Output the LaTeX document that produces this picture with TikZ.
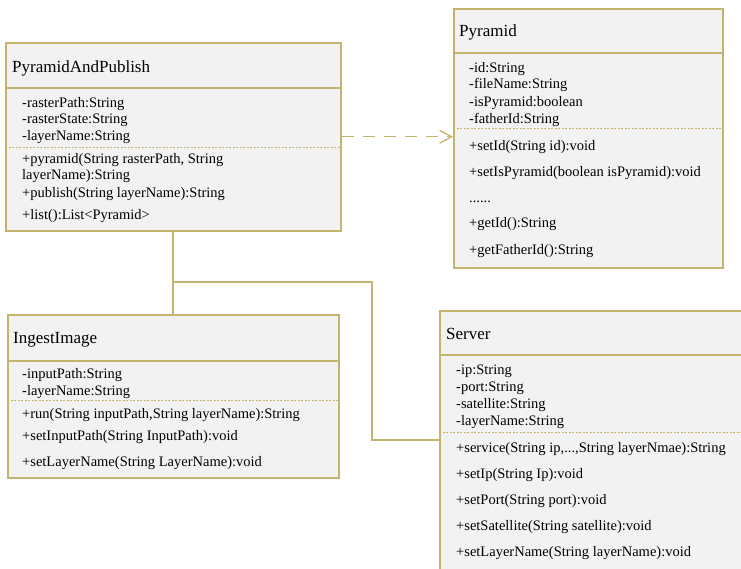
\documentclass[tikz,border=0pt]{standalone}
\usepackage{fontspec}
\setmainfont{Liberation Serif}
\usepackage{xcolor}
\definecolor{umlline}{HTML}{C3B56E}
\definecolor{umlfill}{HTML}{F2F2F2}
\usepackage{tikz}
\usetikzlibrary{arrows.meta, shadows}

\begin{document}
\begin{tikzpicture}[x=1pt, y=-1pt,
  classbox/.style={draw=umlline, line width=1.5pt, fill=umlfill, inner sep=0pt, anchor=north west,
    general shadow={shadow xshift=1.5pt, shadow yshift=-1.5pt, fill=black!15}},
  classname/.style={anchor=base west, inner sep=0pt, font=\fontsize{17}{20}\selectfont},
  member/.style={anchor=base west, inner sep=0pt, font=\fontsize{14.5}{17}\selectfont},
  headrule/.style={draw=umlline, line width=1.5pt},
  dotrule/.style={draw=umlline, line width=0.9pt, dash pattern=on 2pt off 1.5pt},
  conn/.style={draw=umlline, line width=2pt},
  dep/.style={draw=umlline, line width=1.3pt, dash pattern=on 12pt off 9pt,
    -{Straight Barb[length=12pt, width=13pt]}}
]
\useasboundingbox (0,0) rectangle (741,568);
\clip (0,0) rectangle (741,568);

\node[classbox, minimum width=335pt, minimum height=188pt] (pap) at (5,42) {};
\draw[headrule] (pap.west |- 0,88) -- (pap.east |- 0,88);
\draw[dotrule] (pap.west |- 0,147) -- (pap.east |- 0,147);
\node[classname] (pap-name) at (12,72) {PyramidAndPublish};
\foreach \i/\yy/\txt in {1/107/{-rasterPath:String}, 2/123/{-rasterState:String}, 3/140/{-layerName:String},
    4/163/{+pyramid(String rasterPath, String}, 5/179/{layerName):String},
    6/197/{+publish(String layerName):String}, 7/219/{+list():List<Pyramid>}}
  \node[member] (pap-\i) at (22,\yy) {\txt};

\node[classbox, minimum width=269pt, minimum height=259pt] (pyr) at (453,8) {};
\draw[headrule] (pyr.west |- 0,53) -- (pyr.east |- 0,53);
\draw[dotrule] (pyr.west |- 0,128) -- (pyr.east |- 0,128);
\node[classname] (pyr-name) at (459,36) {Pyramid};
\foreach \i/\yy/\txt in {1/72/{-id:String}, 2/88/{-fileName:String}, 3/106/{-isPyramid:boolean},
    4/123/{-fatherId:String}, 5/150/{+setId(String id):void},
    6/176/{+setIsPyramid(boolean isPyramid):void}, 7/202/{......},
    8/227/{+getId():String}, 9/254/{+getFatherId():String}}
  \node[member] (pyr-\i) at (469,\yy) {\txt};

\node[classbox, minimum width=331pt, minimum height=163pt] (ingest) at (7,314) {};
\draw[headrule] (ingest.west |- 0,361) -- (ingest.east |- 0,361);
\draw[dotrule] (ingest.west |- 0,400) -- (ingest.east |- 0,400);
\node[classname] (ingest-name) at (13,343) {IngestImage};
\foreach \i/\yy/\txt in {1/378/{-inputPath:String}, 2/395/{-layerName:String},
    3/418/{+run(String inputPath,String layerName):String},
    4/440/{+setInputPath(String InputPath):void}, 5/466/{+setLayerName(String LayerName):void}}
  \node[member] (ingest-\i) at (22,\yy) {\txt};

\node[classbox, minimum width=330pt, minimum height=290pt] (server) at (439,310) {};
\draw[headrule] (server.west |- 0,355) -- (server.east |- 0,355);
\draw[dotrule] (server.west |- 0,432) -- (server.east |- 0,432);
\node[classname] (server-name) at (446,339) {Server};
\foreach \i/\yy/\txt in {1/374/{-ip:String}, 2/391/{-port:String}, 3/408/{-satellite:String},
    4/425/{-layerName:String}, 5/452/{+service(String ip,...,String layerNmae):String},
    6/478/{+setIp(String Ip):void}, 7/504/{+setPort(String port):void},
    8/530/{+setSatellite(String satellite):void}, 9/556/{+setLayerName(String layerName):void}}
  \node[member] (server-\i) at (456,\yy) {\txt};

\coordinate (split) at (173,282);
\coordinate (bend) at (372,282);
\coordinate (srvin) at (439,440);
\draw[conn] (pap.south -| split) -- (ingest.north -| split);
\draw[conn] (split) -- (bend) |- (srvin);
\draw[dep] (pap.east) -- (pap.east -| pyr.west);
\end{tikzpicture}
\end{document}
